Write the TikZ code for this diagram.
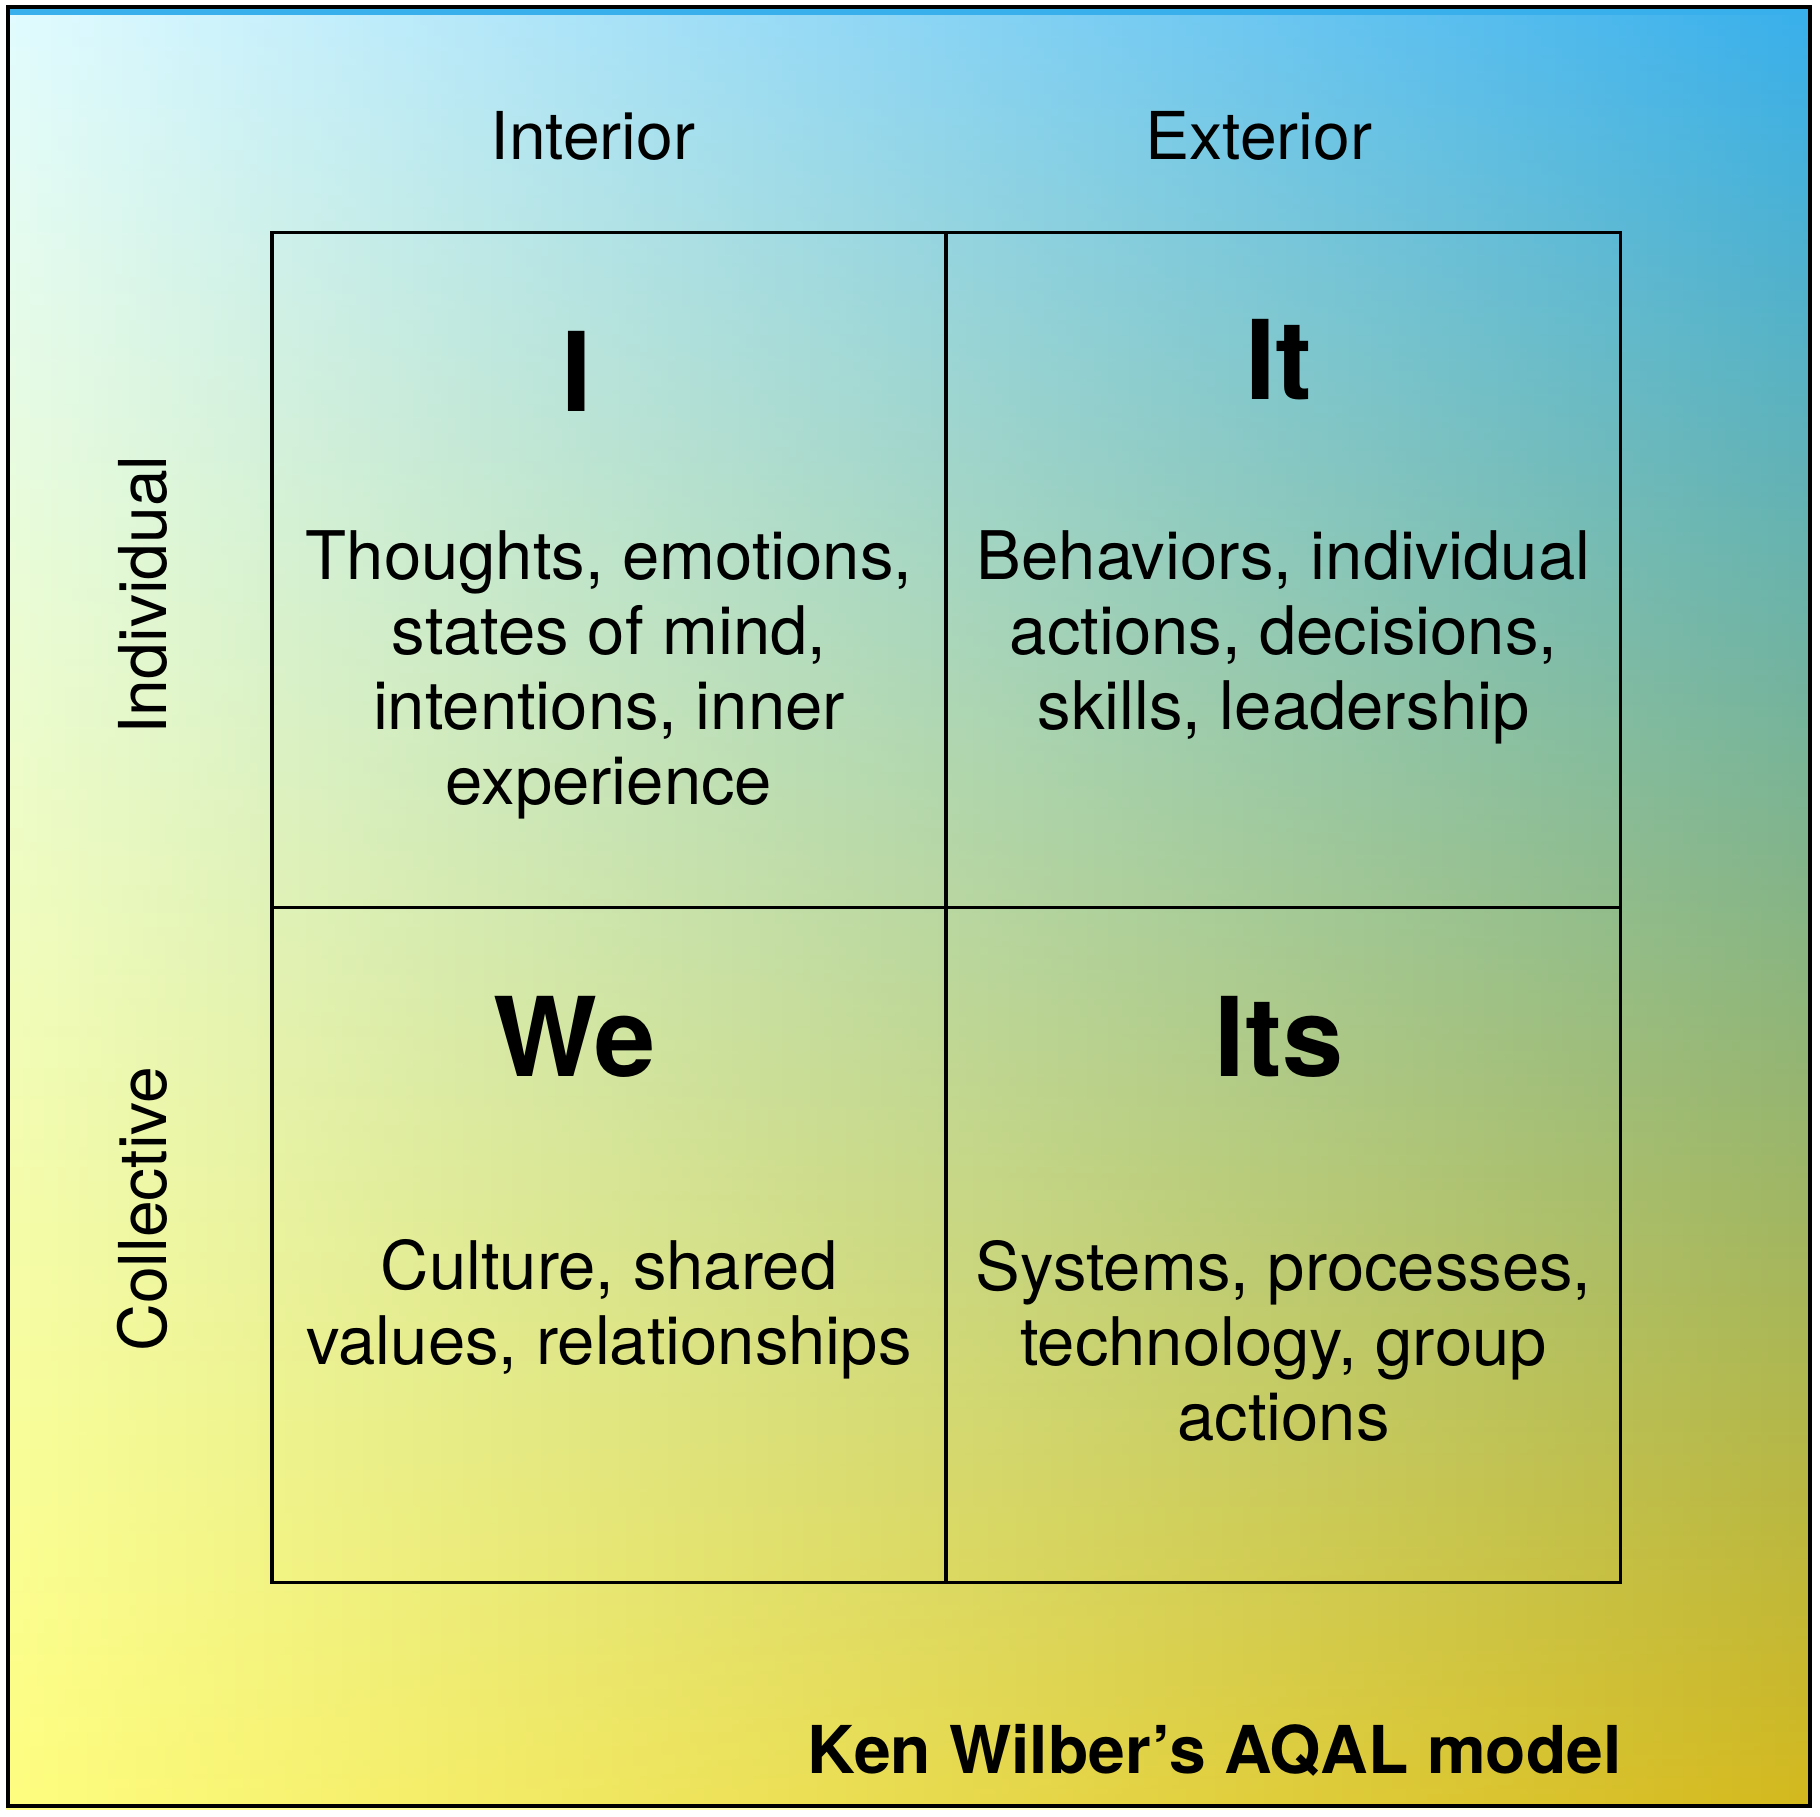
\documentclass[tikz,border=0pt]{standalone}
\usepackage{fontspec}
\setmainfont{TeX Gyre Heros}
\usepackage{xcolor}
\usetikzlibrary{positioning, fadings}

\definecolor{bgtl}{RGB}{226,252,255}
\definecolor{bgml}{RGB}{254,254,252}
\definecolor{bgbl}{RGB}{255,254,128}
\definecolor{bgtr}{RGB}{56,176,236}
\definecolor{bgmr}{RGB}{118,186,140}
\definecolor{bgbr}{RGB}{212,185,30}

\begin{document}
\begin{tikzpicture}[
    x=1pt, y=1pt,
    cell/.style={draw, line width=3.5pt, minimum width=674pt, minimum height=675pt, inner sep=0pt},
    hdr/.style={font=\fontsize{66}{75}\selectfont, anchor=base},
    side/.style={hdr, rotate=90},
    quad/.style={font=\fontsize{110}{120}\selectfont\bfseries, anchor=base},
    desc/.style={font=\fontsize{67}{75}\selectfont, align=center, anchor=base},
    mtitle/.style={font=\fontsize{66}{75}\selectfont\bfseries, anchor=base east},
  ]
    \useasboundingbox (0,0) rectangle (1820,1816);
    % background: right side colours, left side faded in over them
    \shade[top color=bgtr, middle color=bgmr, bottom color=bgbr] (8,10) rectangle (1810,1809);
    \shade[top color=bgtl, middle color=bgml, bottom color=bgbl, path fading=east] (8,10) rectangle (1810,1809);
    \draw[line width=4pt] (8,10) rectangle (1810,1809);

    % the four quadrants
    \node[cell] (ul) at (609,1246) {};
    \node[cell] (ur) at (1283.5,1246) {};
    \node[cell] (ll) at (609,571) {};
    \node[cell] (lr) at (1283.5,571) {};

    \node[hdr] (interior) at (593,1656) {Interior};
    \node[hdr] (exterior) at (1259,1656) {Exterior};
    \node[side] (individual) at (166,1221) {Individual};
    \node[side] (collective) at (166,607) {Collective};

    \node[quad] (qi) at (576.5,1404) {I};
    \node[quad] (qit) at (1279,1416) {It};
    \node[quad] (qwe) at (575,739) {We};
    \node[quad] (qits) at (1279,739) {Its};

    % base = baseline of the last line
    \node[desc] (di) at (609,1011) {Thoughts, emotions,\\states of mind,\\intentions, inner\\experience};
    \node[desc] (dit) at (1283.5,1086) {Behaviors, individual\\actions, decisions,\\skills, leadership};
    \node[desc] (dwe) at (609,451) {Culture, shared\\values, relationships};
    \node[desc] (dits) at (1283.5,376) {Systems, processes,\\technology, group\\actions};

    \node[mtitle] (title) at (1625,43) {Ken Wilber’s AQAL model};
  \end{tikzpicture}
\end{document}
